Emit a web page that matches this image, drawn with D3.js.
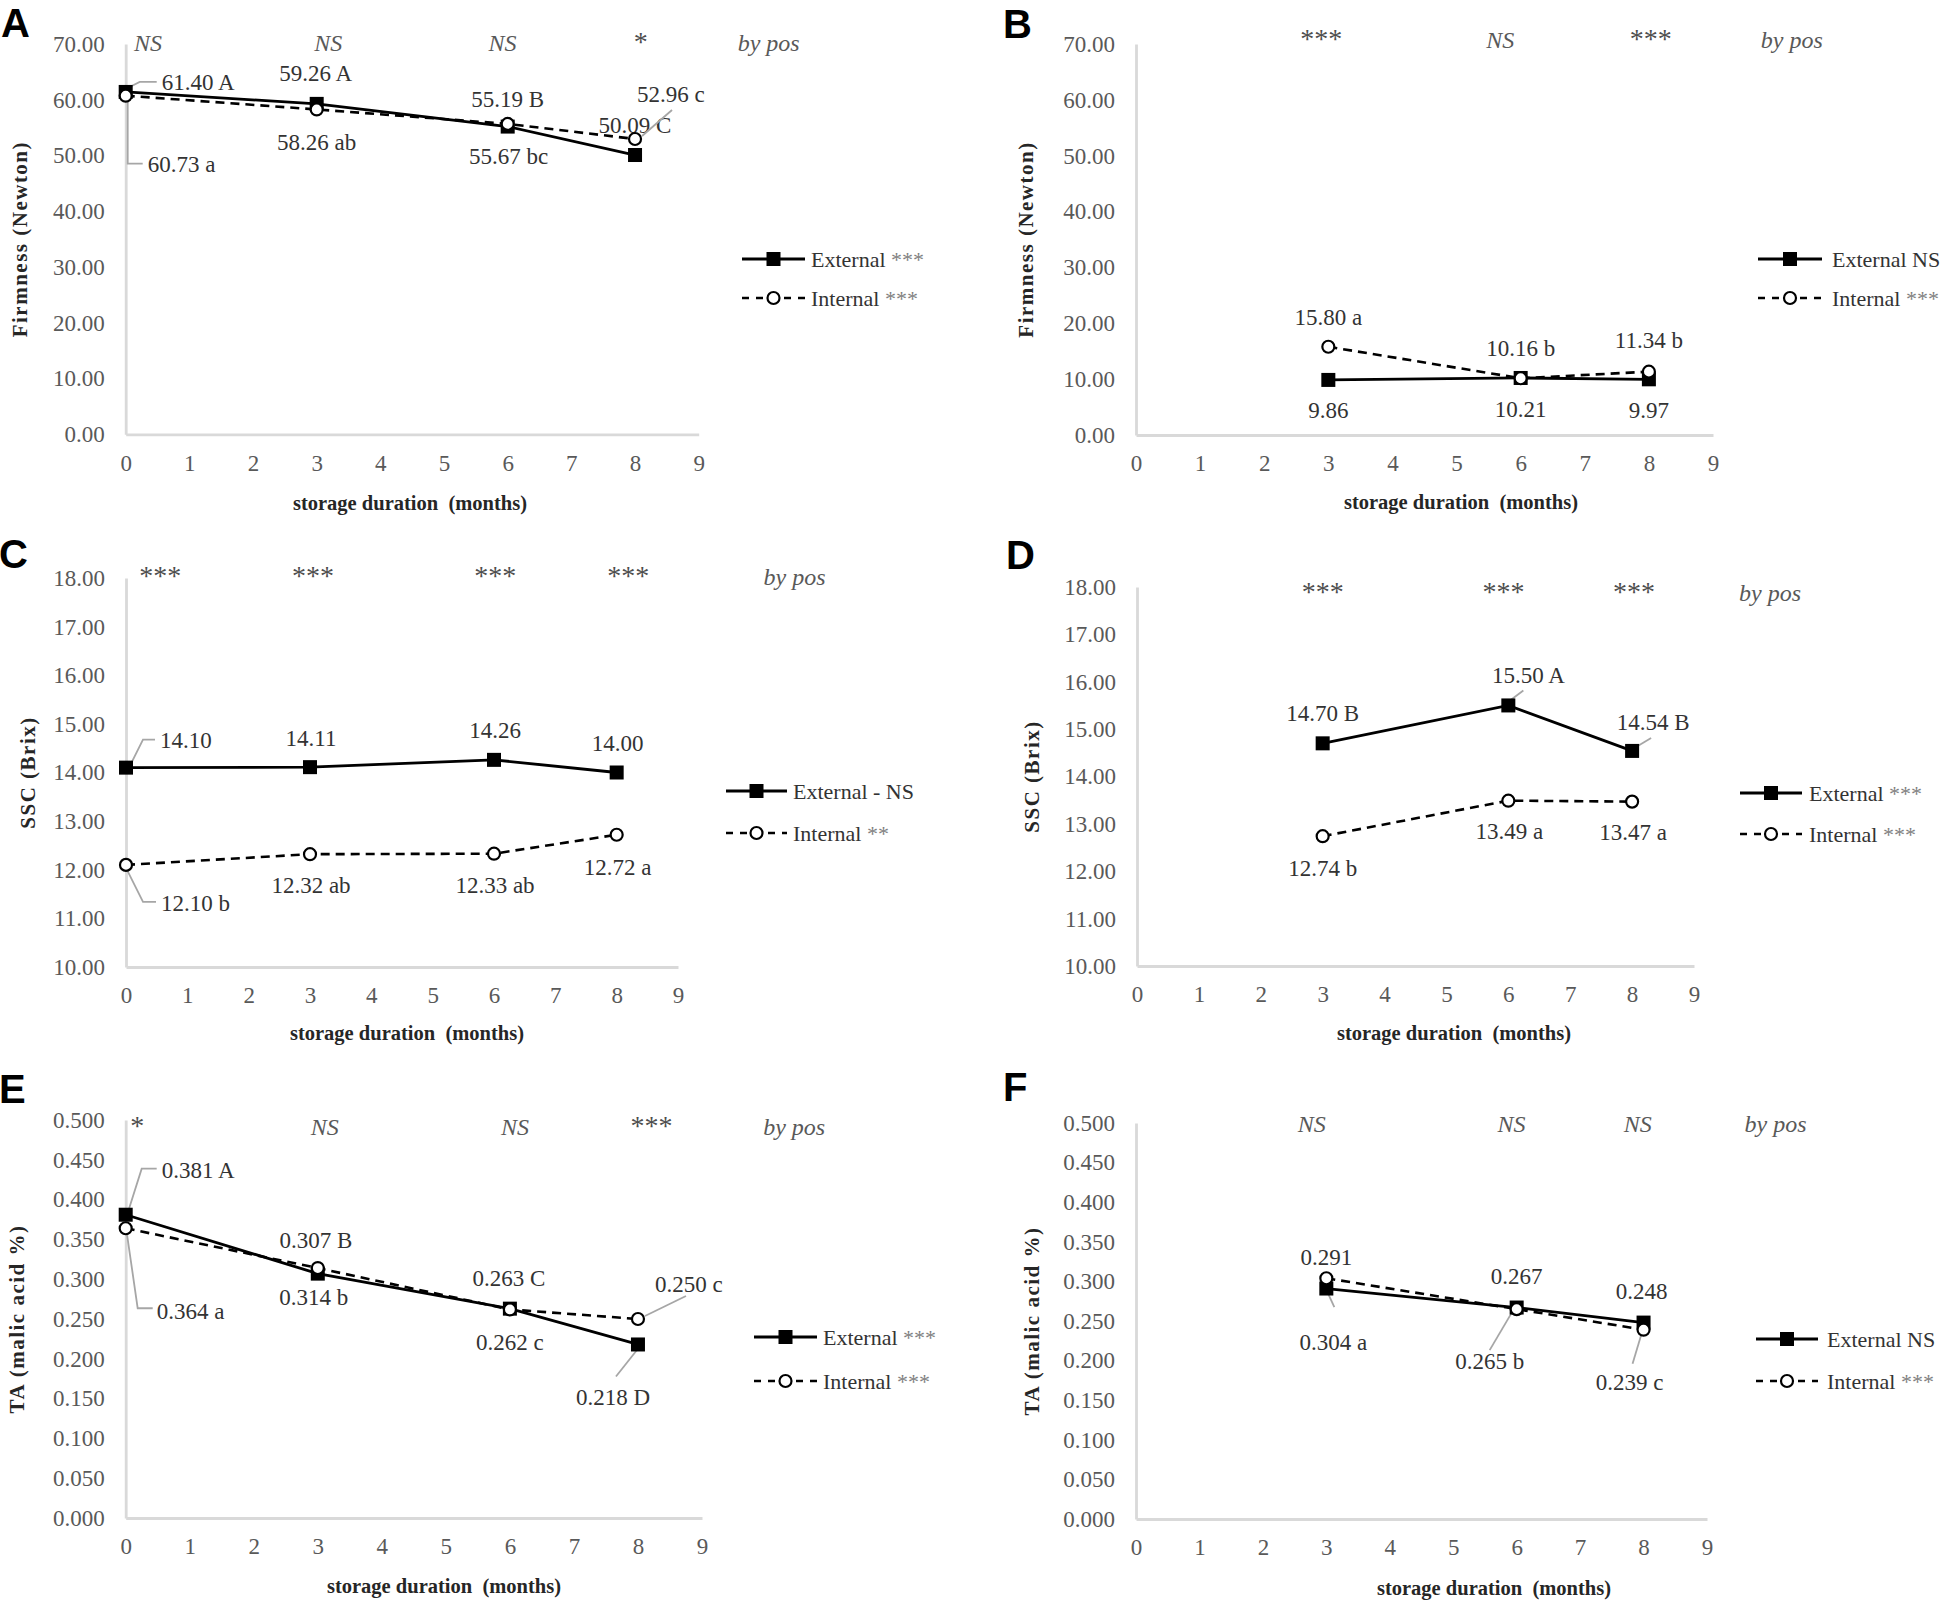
<!DOCTYPE html>
<html>
<head>
<meta charset="utf-8">
<script src="https://cdn.jsdelivr.net/npm/d3@7"></script>
<style>
  body { margin: 0; background: #fff; }
  svg { display: block; }
</style>
</head>
<body>
<svg id="fig" width="1946" height="1600"></svg>
<script>
// ---------- data

const X_TICKS = [0, 1, 2, 3, 4, 5, 6, 7, 8, 9];
const FIRM_TICKS = [0, 10, 20, 30, 40, 50, 60, 70];
const SSC_TICKS = [10, 11, 12, 13, 14, 15, 16, 17, 18];
const TA_TICKS = [0, 0.05, 0.1, 0.15, 0.2, 0.25, 0.3, 0.35, 0.4, 0.45, 0.5];

const MONTHS_ALL = [0, 3, 6, 8];
const MONTHS_LATE = [3, 6, 8];

// A - firmness, first group
const A_EXT = [61.40, 59.26, 55.19, 50.09];
const A_INT = [60.73, 58.26, 55.67, 52.96];
const A_EXT_LABELS = ["61.40 A", "59.26 A", "55.19 B", "50.09 C"];
const A_INT_LABELS = ["60.73 a", "58.26 ab", "55.67 bc", "52.96 c"];
const A_SIG = ["NS", "NS", "NS", "*"];
const A_LEGEND = ["External ***", "Internal ***"];

// B - firmness, second group
const B_EXT = [9.86, 10.21, 9.97];
const B_INT = [15.80, 10.16, 11.34];
const B_EXT_LABELS = ["9.86", "10.21", "9.97"];
const B_INT_LABELS = ["15.80 a", "10.16 b", "11.34 b"];
const B_SIG = ["***", "NS", "***"];
const B_LEGEND = ["External NS", "Internal ***"];

// C - SSC, first group
const C_EXT = [14.10, 14.11, 14.26, 14.00];
const C_INT = [12.10, 12.32, 12.33, 12.72];
const C_EXT_LABELS = ["14.10", "14.11", "14.26", "14.00"];
const C_INT_LABELS = ["12.10 b", "12.32 ab", "12.33 ab", "12.72 a"];
const C_SIG = ["***", "***", "***", "***"];
const C_LEGEND = ["External - NS", "Internal **"];

// D - SSC, second group
const D_EXT = [14.70, 15.50, 14.54];
const D_INT = [12.74, 13.49, 13.47];
const D_EXT_LABELS = ["14.70 B", "15.50 A", "14.54 B"];
const D_INT_LABELS = ["12.74 b", "13.49 a", "13.47 a"];
const D_SIG = ["***", "***", "***"];
const D_LEGEND = ["External ***", "Internal ***"];

// E - TA, first group
const E_EXT = [0.381, 0.307, 0.263, 0.218];
const E_INT = [0.364, 0.314, 0.262, 0.250];
const E_EXT_LABELS = ["0.381 A", "0.307 B", "0.263 C", "0.218 D"];
const E_INT_LABELS = ["0.364 a", "0.314 b", "0.262 c", "0.250 c"];
const E_SIG = ["*", "NS", "NS", "***"];
const E_LEGEND = ["External ***", "Internal ***"];

// F - TA, second group
const F_EXT = [0.291, 0.267, 0.248];
const F_INT = [0.304, 0.265, 0.239];
const F_EXT_LABELS = ["0.291", "0.267", "0.248"];
const F_INT_LABELS = ["0.304 a", "0.265 b", "0.239 c"];
const F_SIG = ["NS", "NS", "NS"];
const F_LEGEND = ["External NS", "Internal ***"];

const BY_POS = "by pos";
const X_TITLE = "storage duration  (months)";

// ---------- look

const SERIF = "'Liberation Serif', 'Times New Roman', serif";
const SANS = "'Liberation Sans', Arial, sans-serif";
const AXIS_GREY = "#d9d9d9";
const TICK_GREY = "#595959";
const LABEL_INK = "#333333";
const STAR_GREY = "#808080";
const SIG_STAR = "#4d4d4d";
const LEADER_GREY = "#a6a6a6";
const DASH = "9,6";

// label placement relative to its marker: [dx, dy, anchor, leader points]
const A_EXT_POS = [[36, -10, "start", [[4, -5], [14, -10], [31, -10]]], [-1, -31], [0, -28], [0, -30]];
const A_INT_POS = [[22, 68, "start", [[2, 5], [2, 68], [17, 68]]], [0, 32], [1, 32], [2, -45, "start", [[7, -3], [37, -29]]]];
const B_EXT_POS = [[0, 30], [0, 31], [0, 31]];
const B_INT_POS = [[0, -30], [0, -30], [0, -32]];
const C_EXT_POS = [[34, -28, "start", [[5, -4], [17, -28], [29, -28]]], [1, -29], [1, -30], [1, -30]];
const C_INT_POS = [[35, 38, "start", [[1, 5], [17, 37], [30, 37]]], [1, 31], [1, 31], [1, 32]];
const D_EXT_POS = [[0, -30], [20, -30, "middle", [[3, -6], [15, -15]]], [21, -29, "middle", [[4, -4], [19, -13]]]];
const D_INT_POS = [[0, 32], [1, 30], [1, 30]];
const E_EXT_POS = [[36, -45, "start", [[3, -5], [16, -46], [31, -46]]], [-2, -34], [-1, -31], [-25, 52, "middle", [[1, 3], [-22, 32]]]];
const E_INT_POS = [[31, 83, "start", [[1, 4], [12, 80], [27, 80]]], [-4, 29], [0, 33], [17, -35, "start", [[7, -3], [48, -23]]]];
const F_EXT_POS = [[0, -32], [0, -32], [-2, -32]];
const F_INT_POS = [[7, 64, "middle", [[2, 16], [8, 29]]], [-27, 52, "middle", [[-4, 2], [-27, 41]]], [-14, 52, "middle", [[-2, 4], [-11, 34]]]];

const PANELS = [
  {
    key: "A", months: MONTHS_ALL, ext: A_EXT, int: A_INT, extLabels: A_EXT_LABELS, intLabels: A_INT_LABELS,
    extPos: A_EXT_POS, intPos: A_INT_POS, sig: A_SIG, legend: A_LEGEND,
    yDomain: [0, 70], yTicks: FIRM_TICKS, yFmt: ".2f", yTitle: "Firmness (Newton)",
    box: { x0: 125.7, x9: 698.7, yTop: 44, yBot: 434.3 },
    letter: [1, 37], sigAt: [0.35, 3.18, 5.92, 8.09], byPosAt: 10.1, sigY: 51,
    legendBox: { x0: 742, x1: 805, y1: 259, y2: 298, tx: 811 },
    xTitle: [410, 503], yTitleX: 20,
  },
  {
    key: "B", months: MONTHS_LATE, ext: B_EXT, int: B_INT, extLabels: B_EXT_LABELS, intLabels: B_INT_LABELS,
    extPos: B_EXT_POS, intPos: B_INT_POS, sig: B_SIG, legend: B_LEGEND,
    yDomain: [0, 70], yTicks: FIRM_TICKS, yFmt: ".2f", yTitle: "Firmness (Newton)",
    box: { x0: 1136, x9: 1713, yTop: 44, yBot: 435 },
    letter: [1003, 38], sigAt: [2.89, 5.68, 8.03], byPosAt: 10.23, sigY: 48,
    legendBox: { x0: 1758, x1: 1822, y1: 259, y2: 298, tx: 1832 },
    xTitle: [1461, 502], yTitleX: 1026,
  },
  {
    key: "C", months: MONTHS_ALL, ext: C_EXT, int: C_INT, extLabels: C_EXT_LABELS, intLabels: C_INT_LABELS,
    extPos: C_EXT_POS, intPos: C_INT_POS, sig: C_SIG, legend: C_LEGEND,
    yDomain: [10, 18], yTicks: SSC_TICKS, yFmt: ".2f", yTitle: "SSC (Brix)",
    box: { x0: 126, x9: 678, yTop: 578, yBot: 967 },
    letter: [-1, 568], sigAt: [0.56, 3.05, 6.02, 8.19], byPosAt: 10.9, sigY: 585,
    legendBox: { x0: 726, x1: 787, y1: 791, y2: 833, tx: 793 },
    xTitle: [407, 1033], yTitleX: 28,
  },
  {
    key: "D", months: MONTHS_LATE, ext: D_EXT, int: D_INT, extLabels: D_EXT_LABELS, intLabels: D_INT_LABELS,
    extPos: D_EXT_POS, intPos: D_INT_POS, sig: D_SIG, legend: D_LEGEND,
    yDomain: [10, 18], yTicks: SSC_TICKS, yFmt: ".2f", yTitle: "SSC (Brix)",
    box: { x0: 1137, x9: 1694, yTop: 587, yBot: 966 },
    letter: [1006, 569], sigAt: [3.0, 5.92, 8.03], byPosAt: 10.23, sigY: 601,
    legendBox: { x0: 1740, x1: 1802, y1: 793, y2: 834, tx: 1809 },
    xTitle: [1454, 1033], yTitleX: 1032,
  },
  {
    key: "E", months: MONTHS_ALL, ext: E_EXT, int: E_INT, extLabels: E_EXT_LABELS, intLabels: E_INT_LABELS,
    extPos: E_EXT_POS, intPos: E_INT_POS, sig: E_SIG, legend: E_LEGEND,
    yDomain: [0, 0.5], yTicks: TA_TICKS, yFmt: ".3f", yTitle: "TA (malic acid %)",
    box: { x0: 125.7, x9: 702, yTop: 1120, yBot: 1518 },
    letter: [-1, 1103], sigAt: [0.18, 3.11, 6.08, 8.21], byPosAt: 10.44, sigY: 1135,
    legendBox: { x0: 754, x1: 817, y1: 1337, y2: 1381, tx: 823 },
    xTitle: [444, 1586], yTitleX: 17,
  },
  {
    key: "F", months: MONTHS_LATE, ext: F_EXT, int: F_INT, extLabels: F_EXT_LABELS, intLabels: F_INT_LABELS,
    extPos: F_EXT_POS, intPos: F_INT_POS, sig: F_SIG, legend: F_LEGEND,
    yDomain: [0, 0.5], yTicks: TA_TICKS, yFmt: ".3f", yTitle: "TA (malic acid %)",
    box: { x0: 1136, x9: 1707, yTop: 1123, yBot: 1519 },
    letter: [1003, 1101], sigAt: [2.77, 5.92, 7.91], byPosAt: 10.08, sigY: 1132,
    legendBox: { x0: 1756, x1: 1818, y1: 1339, y2: 1381, tx: 1827 },
    xTitle: [1494, 1588], yTitleX: 1032,
  },
];

// ---------- helpers

// split "External ***" so the asterisks can be greyed
function addStarText(sel, str, baseFill) {
  str.split(/(\*+)/).filter((s) => s.length).forEach((part) => {
    sel.append("tspan")
      .attr("fill", part.startsWith("*") ? STAR_GREY : baseFill)
      .text(part);
  });
}

function drawSquare(g, cx, cy) {
  g.append("rect")
    .attr("x", cx - 7).attr("y", cy - 7)
    .attr("width", 14).attr("height", 14)
    .attr("fill", "#000");
}

function drawCircle(g, cx, cy) {
  g.append("circle")
    .attr("cx", cx).attr("cy", cy).attr("r", 6)
    .attr("fill", "#fff").attr("stroke", "#000").attr("stroke-width", 2.2);
}

function drawLabels(g, pts, x, y) {
  pts.forEach((d) => {
    const px = x(d.m), py = y(d.v);
    const [dx, dy, anchor = "middle", leader] = d.pos;
    if (leader) {
      g.append("polyline")
        .attr("points", leader.map(([a, b]) => `${px + a},${py + b}`).join(" "))
        .attr("fill", "none")
        .attr("stroke", LEADER_GREY)
        .attr("stroke-width", 1.8);
    }
    g.append("text")
      .attr("x", px + dx)
      .attr("y", py + dy)
      .attr("dy", "0.35em")
      .attr("text-anchor", anchor)
      .attr("font-size", 23)
      .attr("fill", LABEL_INK)
      .text(d.label);
  });
}

// ---------- panels

function drawPanel(svg, p) {
  const x = d3.scaleLinear().domain([0, 9]).range([p.box.x0, p.box.x9]);
  const y = d3.scaleLinear().domain(p.yDomain).range([p.box.yBot, p.box.yTop]);
  const g = svg.append("g").attr("font-family", SERIF);

  // axes, ticks hidden like the excel original
  const yAxis = g.append("g")
    .attr("transform", `translate(${p.box.x0},0)`)
    .call(d3.axisLeft(y).tickValues(p.yTicks).tickFormat(d3.format(p.yFmt)).tickSize(0).tickPadding(21));
  const xAxis = g.append("g")
    .attr("transform", `translate(0,${p.box.yBot})`)
    .call(d3.axisBottom(x).tickValues(X_TICKS).tickFormat(d3.format("d")).tickSize(0).tickPadding(20));
  [xAxis, yAxis].forEach((a) => {
    a.attr("font-family", SERIF).attr("font-size", 23);
    a.select(".domain").attr("stroke", AXIS_GREY).attr("stroke-width", 2.8);
    a.selectAll("text").attr("fill", TICK_GREY);
  });

  // titles
  g.append("text")
    .attr("x", p.xTitle[0]).attr("y", p.xTitle[1]).attr("dy", "0.35em")
    .attr("text-anchor", "middle")
    .attr("font-size", 20.5).attr("font-weight", "bold")
    .attr("fill", "#262626")
    .style("white-space", "pre")
    .text(X_TITLE);
  g.append("text")
    .attr("transform", `translate(${p.yTitleX},${(p.box.yTop + p.box.yBot) / 2}) rotate(-90)`)
    .attr("dy", "0.35em")
    .attr("text-anchor", "middle")
    .attr("font-size", 21).attr("font-weight", "bold")
    .attr("letter-spacing", 1.5)
    .attr("fill", "#262626")
    .text(p.yTitle);

  svg.append("text")
    .attr("x", p.letter[0]).attr("y", p.letter[1])
    .attr("font-family", SANS).attr("font-size", 40).attr("font-weight", "bold")
    .attr("fill", "#000")
    .text(p.key);

  // significance by position, across the top
  p.sig.forEach((s, i) => {
    const t = g.append("text")
      .attr("x", x(p.sigAt[i])).attr("y", p.sigY)
      .attr("text-anchor", "middle");
    if (s.startsWith("*")) t.attr("fill", SIG_STAR).attr("font-size", 28).text(s);
    else t.attr("fill", TICK_GREY).attr("font-size", 24).attr("font-style", "italic").text(s);
  });
  g.append("text")
    .attr("x", x(p.byPosAt)).attr("y", p.sigY)
    .attr("text-anchor", "middle")
    .attr("font-size", 24).attr("font-style", "italic")
    .attr("fill", TICK_GREY)
    .text(BY_POS);

  const extPts = p.months.map((m, i) => ({ m, v: p.ext[i], label: p.extLabels[i], pos: p.extPos[i] }));
  const intPts = p.months.map((m, i) => ({ m, v: p.int[i], label: p.intLabels[i], pos: p.intPos[i] }));

  const line = d3.line().x((d) => x(d.m)).y((d) => y(d.v));

  // leaders and labels go under the markers
  drawLabels(g, extPts, x, y);
  drawLabels(g, intPts, x, y);

  g.append("path").datum(extPts)
    .attr("d", line).attr("fill", "none")
    .attr("stroke", "#000").attr("stroke-width", 2.8);
  g.append("path").datum(intPts)
    .attr("d", line).attr("fill", "none")
    .attr("stroke", "#000").attr("stroke-width", 2.6)
    .attr("stroke-dasharray", DASH);

  extPts.forEach((d) => drawSquare(g, x(d.m), y(d.v)));
  intPts.forEach((d) => drawCircle(g, x(d.m), y(d.v)));

  // legend
  const lb = p.legendBox;
  const mid = (lb.x0 + lb.x1) / 2;
  g.append("line")
    .attr("x1", lb.x0).attr("x2", lb.x1).attr("y1", lb.y1).attr("y2", lb.y1)
    .attr("stroke", "#000").attr("stroke-width", 2.8);
  drawSquare(g, mid, lb.y1);
  g.append("line")
    .attr("x1", lb.x0).attr("x2", lb.x1).attr("y1", lb.y2).attr("y2", lb.y2)
    .attr("stroke", "#000").attr("stroke-width", 2.6)
    .attr("stroke-dasharray", "7,7");
  drawCircle(g, mid, lb.y2);

  [lb.y1, lb.y2].forEach((ly, i) => {
    const t = g.append("text")
      .attr("x", lb.tx).attr("y", ly).attr("dy", "0.35em")
      .attr("font-size", 22)
      .style("white-space", "pre");
    addStarText(t, p.legend[i], LABEL_INK);
  });
}

const svg = d3.select("#fig");
svg.append("rect").attr("width", 1946).attr("height", 1600).attr("fill", "#fff");
PANELS.forEach((p) => drawPanel(svg, p));
</script>
</body>
</html>
